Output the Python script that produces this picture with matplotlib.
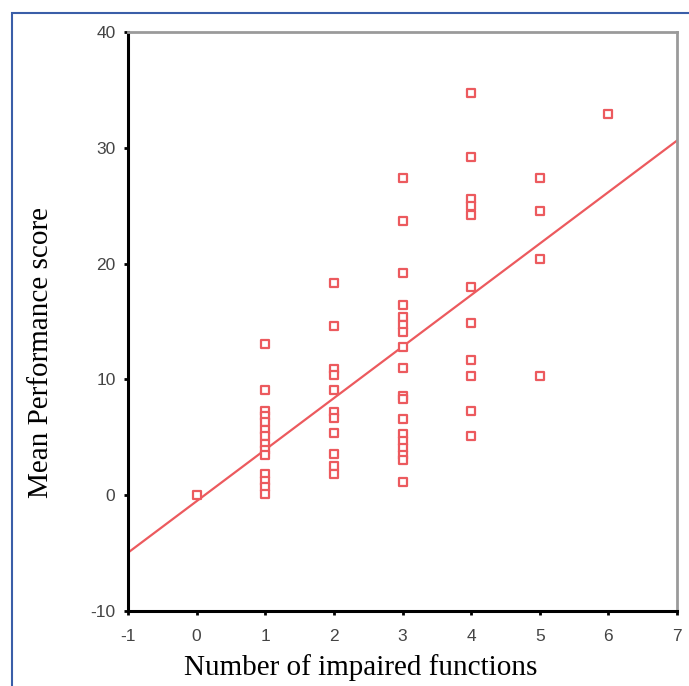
import matplotlib
matplotlib.use('Agg')
import matplotlib.pyplot as plt
from matplotlib.patches import Rectangle
import numpy as np

plt.rcParams['axes.unicode_minus'] = False

# number of impaired functions and mean performance score
x0 = [0]
y0 = [0.0]
x1 = [1] * 14
y1 = [13.1, 9.1, 7.3, 6.8, 6.3, 5.6, 5.1, 4.4, 3.9, 3.5, 1.8, 1.2, 0.7, 0.1]
x2 = [2] * 11
y2 = [18.3, 14.6, 10.9, 10.4, 9.1, 7.2, 6.7, 5.4, 3.6, 2.5, 1.8]
x3 = [3] * 18
y3 = [27.4, 23.7, 19.2, 16.4, 15.4, 14.7, 14.1, 12.8, 11.0, 8.6, 8.3,
      6.6, 5.3, 4.7, 4.1, 3.5, 3.0, 1.1]
x4 = [4] * 11
y4 = [34.7, 29.2, 25.6, 25.0, 24.2, 18.0, 14.9, 11.7, 10.3, 7.3, 5.1]
x5 = [5] * 4
y5 = [27.4, 24.5, 20.4, 10.3]
x6 = [6]
y6 = [32.9]

x = np.array(x0 + x1 + x2 + x3 + x4 + x5 + x6, dtype=float)
y = np.array(y0 + y1 + y2 + y3 + y4 + y5 + y6)

red = '#ec5a5e'

fig = plt.figure(figsize=(6.89, 6.86), dpi=100)
# blue frame round the picture
fig.patches.append(Rectangle((12 / 689, -0.05), 1.0, 1 - 13 / 686 + 0.05,
                             transform=fig.transFigure, fill=False,
                             edgecolor='#3a5ea8', linewidth=1.5))

ax = fig.add_axes([128 / 689, 1 - 611 / 686, (677 - 128) / 689, (611 - 32) / 686])
ax.scatter(x, y, marker='s', s=34, facecolors='white', edgecolors=red,
           linewidths=1.6, zorder=3)

slope, intercept = np.polyfit(x, y, 1)
xl = np.array([-1, 7])
ax.plot(xl, slope * xl + intercept, color=red, linewidth=1.6, zorder=2)

ax.set_xlim(-1, 7)
ax.set_ylim(-10, 40)
ax.set_xticks(range(-1, 8))
ax.set_yticks(range(-10, 41, 10))
ax.tick_params(direction='out', length=3, width=2, labelsize=12.5,
               labelcolor='#444444')
ax.tick_params(axis='x', pad=10)
ax.tick_params(axis='y', pad=6)
for lab in ax.get_xticklabels() + ax.get_yticklabels():
    lab.set_family('Liberation Sans')

for side in ['left', 'bottom']:
    ax.spines[side].set_color('black')
    ax.spines[side].set_linewidth(2.2)
for side in ['top', 'right']:
    ax.spines[side].set_color('#9a9a9a')
    ax.spines[side].set_linewidth(2.0)

ax.set_xlabel('Number of impaired functions', family='Liberation Serif',
              fontsize=21)
ax.set_ylabel('Mean Performance score', family='Liberation Serif',
              fontsize=21)
ax.xaxis.set_label_coords(0.424, -0.075)
ax.yaxis.set_label_coords(-0.135, 0.447)

fig.savefig('out.png', dpi=100)
